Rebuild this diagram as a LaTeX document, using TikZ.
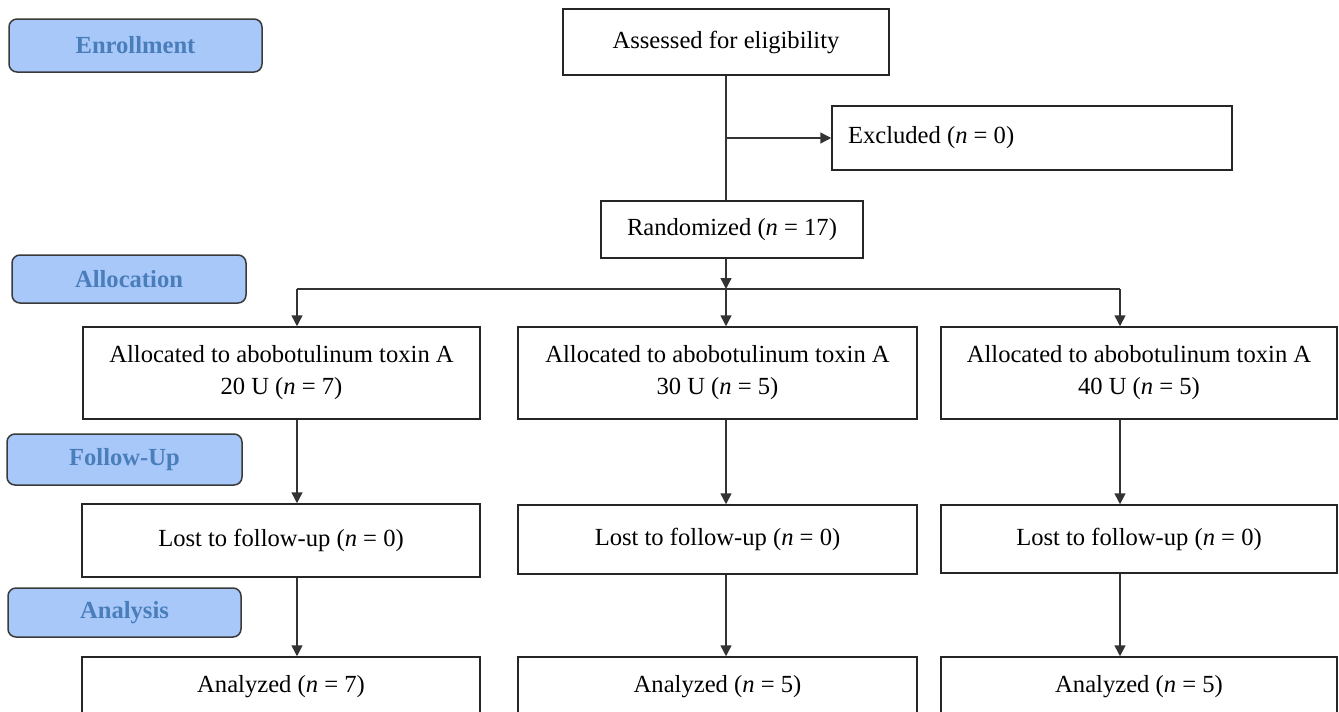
\documentclass[tikz,border=0pt]{standalone}
\usepackage{fontspec}
\setmainfont{Liberation Serif}
\usetikzlibrary{arrows.meta}
\definecolor{lblfill}{HTML}{A8C8FA}
\definecolor{lbltext}{HTML}{4A7EBB}
\definecolor{lbldraw}{HTML}{3A3A3A}
\newcommand{\mainsz}{\fontsize{24.6}{32}\selectfont}
\begin{document}
\begin{tikzpicture}[x=1pt,y=-1pt,
  box/.style={draw=black!85, line width=1.5pt, fill=white, inner sep=0pt, align=center, font=\mainsz},
  lbl/.style={draw=lbldraw, line width=1.5pt, rounded corners=8pt, fill=lblfill, text=lbltext, font=\bfseries\mainsz, inner sep=0pt},
  conn/.style={line width=1.5pt, draw=black!80},
  arr/.style={conn, -{Triangle[length=11pt,width=11pt]}}]
\useasboundingbox (0,0) rectangle (1339,712);
\clip (0,0) rectangle (1339,712);
\fill[white] (0,0) rectangle (1339,712);

% stage labels
\node[lbl, minimum width=253pt, minimum height=53pt] (enr) at (135.5,45.5) {Enrollment};
\node[lbl, minimum width=234pt, minimum height=48pt] (alo) at (129,279) {Allocation};
\node[lbl, minimum width=235pt, minimum height=51pt] (fol) at (124.5,459.5) {Follow-Up};
\node[lbl, minimum width=233pt, minimum height=49pt] (ana) at (124.5,612.5) {Analysis};

% top part
\node[box, minimum width=326pt, minimum height=66pt] (ass) at (726,42) {Assessed for eligibility};
\node[box, minimum width=400pt, minimum height=64pt, text width=368pt, align=flush left] (exc) at (1032,138) {Excluded (\textit{n} = 0)};
\node[box, minimum width=262pt, minimum height=57pt] (ran) at (732,229.5) {Randomized (\textit{n} = 17)};

% allocation row
\node[box, minimum width=397pt, minimum height=92pt] (a1) at (281.5,373) {Allocated to abobotulinum toxin A\\20 U (\textit{n} = 7)};
\node[box, minimum width=399pt, minimum height=92pt] (a2) at (717.5,373) {Allocated to abobotulinum toxin A\\30 U (\textit{n} = 5)};
\node[box, minimum width=396pt, minimum height=92pt] (a3) at (1139,373) {Allocated to abobotulinum toxin A\\40 U (\textit{n} = 5)};

% follow-up row
\node[box, minimum width=398pt, minimum height=73pt] (l1) at (281,540.5) {Lost to follow-up (\textit{n} = 0)};
\node[box, minimum width=399pt, minimum height=69pt] (l2) at (717.5,539.5) {Lost to follow-up (\textit{n} = 0)};
\node[box, minimum width=396pt, minimum height=68pt] (l3) at (1139,539) {Lost to follow-up (\textit{n} = 0)};

% analysis row
\node[box, minimum width=398pt, minimum height=60pt] (n1) at (281,687) {Analyzed (\textit{n} = 7)};
\node[box, minimum width=399pt, minimum height=60pt] (n2) at (717.5,687) {Analyzed (\textit{n} = 5)};
\node[box, minimum width=396pt, minimum height=60pt] (n3) at (1139,687) {Analyzed (\textit{n} = 5)};

% helper coordinates
\coordinate (ej) at (726,138);
\coordinate (br) at (726,289);
\coordinate (c1) at (297,0);
\coordinate (c2) at (726,0);
\coordinate (c3) at (1120,0);

% connectors
\draw[conn] (ass.south) -- (ran.north -| ass.south);
\draw[arr] (ej) -- (exc.west);
\draw[arr] (ran.south -| br) -- (br);
\draw[conn] (br -| c1) -- (br -| c3);
\draw[arr] (br -| c1) -- (a1.north -| c1);
\draw[arr] (br -| c2) -- (a2.north -| c2);
\draw[arr] (br -| c3) -- (a3.north -| c3);
\draw[arr] (a1.south -| c1) -- (l1.north -| c1);
\draw[arr] (a2.south -| c2) -- (l2.north -| c2);
\draw[arr] (a3.south -| c3) -- (l3.north -| c3);
\draw[arr] (l1.south -| c1) -- (n1.north -| c1);
\draw[arr] (l2.south -| c2) -- (n2.north -| c2);
\draw[arr] (l3.south -| c3) -- (n3.north -| c3);
\end{tikzpicture}
\end{document}
